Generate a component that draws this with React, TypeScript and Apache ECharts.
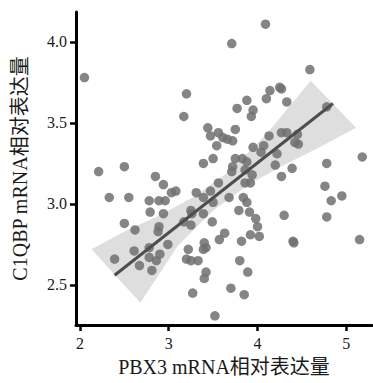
import React, { useEffect, useRef } from "react";
import * as echarts from "echarts";

// PBX3 mRNA relative expression (x) and C1QBP mRNA relative expression (y)
const pbx3 = [
  2.05, 3.20, 3.17, 4.09, 3.71, 4.59, 4.25, 4.27, 4.14, 4.10,
  3.88, 4.33, 3.77, 3.95, 3.93, 4.78, 2.21, 2.50, 2.85, 2.94,
  3.08, 3.03, 2.33, 2.55, 2.78, 2.89, 2.96, 2.79, 2.94, 3.31,
  3.25, 2.50, 3.44, 3.56, 3.75, 3.47, 3.61, 3.66, 3.72, 3.54,
  4.13, 4.27, 4.33, 4.42, 3.39, 3.50, 3.75, 3.83, 3.95, 4.07,
  4.04, 4.22, 3.88, 3.72, 3.71, 3.86, 3.94, 4.20, 4.39, 4.27,
  3.86, 3.92, 3.56, 3.47, 3.39, 3.50, 3.68, 3.84, 3.88, 3.79,
  3.91, 3.26, 3.39, 3.49, 3.98, 4.30, 4.78, 5.18, 4.76, 4.83,
  4.95, 4.78, 2.62, 2.89, 2.88, 3.17, 3.25, 3.63, 3.57, 2.99,
  2.78, 2.61, 3.40, 3.42, 3.39, 3.22, 2.90, 2.78, 2.86, 2.39,
  2.67, 2.81, 3.20, 3.25, 3.33, 3.42, 3.40, 3.27, 3.52, 3.82,
  3.92, 4.02, 4.00, 4.40, 4.41, 5.15, 3.80, 3.89, 3.70, 3.85,
  4.45, 4.46,
];
const c1qbp = [
  3.78, 3.68, 3.54, 4.11, 3.99, 3.83, 3.72, 3.71, 3.70, 3.65,
  3.64, 3.63, 3.59, 3.58, 3.54, 3.60, 3.20, 3.23, 3.17, 3.12,
  3.08, 3.07, 3.04, 3.04, 3.02, 3.02, 3.02, 2.95, 2.94, 3.07,
  2.96, 2.88, 3.47, 3.44, 3.46, 3.42, 3.41, 3.40, 3.39, 3.36,
  3.42, 3.44, 3.44, 3.38, 3.25, 3.28, 3.28, 3.28, 3.35, 3.36,
  3.32, 3.31, 3.26, 3.23, 3.20, 3.21, 3.18, 3.24, 3.22, 3.17,
  3.13, 3.13, 3.13, 3.08, 3.04, 3.01, 3.04, 3.04, 3.01, 2.96,
  2.95, 2.94, 2.94, 2.89, 2.91, 2.93, 3.25, 3.29, 3.11, 3.02,
  3.05, 2.92, 2.84, 2.86, 2.83, 2.89, 2.87, 2.82, 2.78, 2.75,
  2.73, 2.71, 2.76, 2.73, 2.72, 2.72, 2.69, 2.67, 2.65, 2.66,
  2.62, 2.59, 2.66, 2.65, 2.65, 2.58, 2.54, 2.45, 2.31, 2.77,
  2.81, 2.80, 2.86, 2.77, 2.76, 2.78, 2.65, 2.58, 2.48, 2.44,
  3.43, 3.37,
];

// regression line end points
const fitX = [2.39, 4.85];
const fitY = [2.56, 3.62];

// confidence band outline (upper edge left→right, lower edge right→left)
const bandUpperX = [2.13, 2.5, 2.9, 3.3, 3.7, 4.1, 4.6];
const bandUpperY = [2.72, 2.83, 2.93, 3.05, 3.21, 3.43, 3.76];
const bandLowerX = [5.11, 4.7, 4.3, 3.9, 3.5, 3.1, 2.68];
const bandLowerY = [3.47, 3.35, 3.24, 3.12, 2.96, 2.74, 2.39];

const xTicks = [2, 3, 4, 5];
const yTicks = [2.5, 3.0, 3.5, 4.0];

const FONT = "'Liberation Serif', 'Times New Roman', 'Noto Sans CJK SC', serif";

export default function App() {
  const ref = useRef<HTMLDivElement>(null);
  useEffect(() => {
    if (!ref.current) return;
    const chart = echarts.init(ref.current, undefined, { renderer: "svg" });
    const points = pbx3.map((x, i) => [x, c1qbp[i]]);
    const band = [
      ...bandUpperX.map((x, i) => [x, bandUpperY[i]]),
      ...bandLowerX.map((x, i) => [x, bandLowerY[i]]),
    ];
    const axisCommon = {
      axisLine: { show: true, onZero: false, lineStyle: { color: "#000", width: 3 } },
      axisTick: { show: true, length: 6, lineStyle: { color: "#000", width: 2.5 } },
      splitLine: { show: false },
    };
    chart.setOption({
      animation: false,
      backgroundColor: "#ffffff",
      grid: { left: 76, right: 1, top: 12, bottom: 58 },
      xAxis: {
        type: "value",
        min: 1.955,
        max: 5.29,
        ...axisCommon,
        axisTick: { ...axisCommon.axisTick, customValues: xTicks },
        axisLabel: {
          customValues: xTicks,
          margin: 10,
          color: "#1a1a1a",
          fontSize: 16,
          fontFamily: FONT,
        },
        name: "PBX3 mRNA相对表达量",
        nameLocation: "middle",
        nameGap: 32,
        nameTextStyle: { color: "#1a1a1a", fontSize: 20, fontFamily: FONT },
      },
      yAxis: {
        type: "value",
        min: 2.253,
        max: 4.185,
        ...axisCommon,
        axisTick: { ...axisCommon.axisTick, customValues: yTicks },
        axisLabel: {
          customValues: yTicks,
          margin: 9,
          color: "#1a1a1a",
          fontSize: 16,
          fontFamily: FONT,
          formatter: (v: number) => v.toFixed(1),
        },
        name: "C1QBP mRNA相对表达量",
        nameLocation: "middle",
        nameGap: 46,
        nameTextStyle: { color: "#1a1a1a", fontSize: 20, fontFamily: FONT },
      },
      series: [
        {
          type: "custom",
          z: 1,
          data: [band[0]],
          renderItem: (_p: any, api: any) => ({
            type: "polygon",
            shape: { points: band.map((p) => api.coord(p)) },
            style: { fill: "#dedede" },
          }),
          silent: true,
        },
        {
          type: "scatter",
          z: 2,
          data: points,
          symbolSize: 9.5,
          itemStyle: { color: "#707070", opacity: 0.85 },
        },
        {
          type: "line",
          z: 3,
          data: fitX.map((x, i) => [x, fitY[i]]),
          showSymbol: false,
          lineStyle: { color: "#4d4d4d", width: 3 },
        },
      ],
    });
    return () => chart.dispose();
  }, []);
  return (
    <div
      ref={ref}
      style={{ position: "fixed", left: 0, top: 0, width: 373, height: 383 }}
    />
  );
}
